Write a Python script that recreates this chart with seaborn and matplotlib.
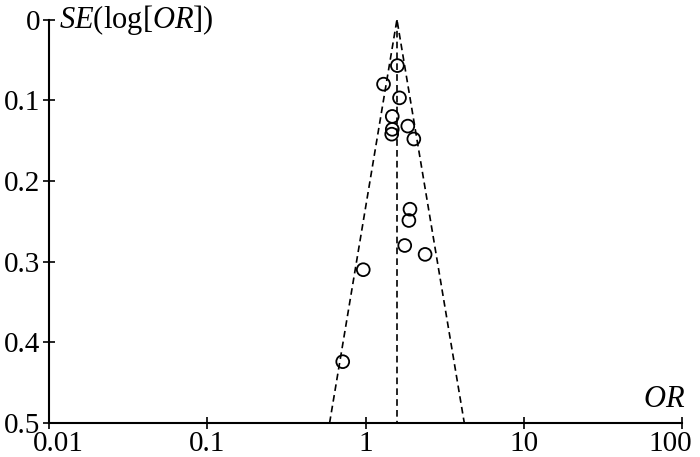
import matplotlib
matplotlib.use("Agg")
import matplotlib.pyplot as plt
import matplotlib.transforms as mtransforms
import numpy as np
import pandas as pd
import seaborn as sns

# study estimates
odds_ratio = [1.59, 1.30, 1.64, 1.476, 1.85, 1.476, 1.464, 2.02,
              1.91, 1.88, 1.77, 2.38, 0.968, 0.718]
se_log_or = [0.057, 0.080, 0.097, 0.120, 0.132, 0.136, 0.142, 0.148,
             0.235, 0.249, 0.280, 0.291, 0.310, 0.424]

pooled_or = 1.58
se_max = 0.5
x_ticks = [0.01, 0.1, 1, 10, 100]
x_tick_labels = ["0.01", "0.1", "1", "10", "100"]
y_ticks = [0, 0.1, 0.2, 0.3, 0.4, 0.5]
y_tick_labels = ["0", "0.1", "0.2", "0.3", "0.4", "0.5"]

sns.set_theme(style="ticks")
plt.rcParams["font.family"] = ["Liberation Serif", "DejaVu Serif"]
plt.rcParams["mathtext.fontset"] = "custom"
plt.rcParams["mathtext.rm"] = "Liberation Serif"
plt.rcParams["mathtext.it"] = "Liberation Serif:italic"
plt.rcParams["text.color"] = "black"

df = pd.DataFrame({"OR": odds_ratio, "SE": se_log_or})

# funnel limits: pooled estimate +/- 1.96 SE on the log scale
funnel = pd.DataFrame({
    "SE": [se_max, 0, se_max],
    "OR": [np.exp(np.log(pooled_or) - 1.96 * se_max), pooled_or,
           np.exp(np.log(pooled_or) + 1.96 * se_max)],
})
center = pd.DataFrame({"SE": [0, se_max], "OR": [pooled_or, pooled_or]})

fig = plt.figure(figsize=(7, 4.57), dpi=100)
ax = fig.add_axes([0.07, 0.0744, 0.9043, 0.8827])

dash = (0, (4, 2.5))
sns.lineplot(data=funnel, x="OR", y="SE", sort=False, estimator=None,
             color="black", linestyle=dash, linewidth=1.2, ax=ax)
sns.lineplot(data=center, x="OR", y="SE", sort=False, estimator=None,
             color="black", linestyle=dash, linewidth=1.2, ax=ax)
sns.scatterplot(data=df, x="OR", y="SE", marker="o", s=85,
                facecolor="none", edgecolor="black", linewidth=1.3, ax=ax,
                zorder=3)

ax.set_xscale("log")
ax.set_xlim(0.01, 100)
ax.set_ylim(se_max, 0)
ax.set_xticks(x_ticks)
ax.set_xticklabels(x_tick_labels)
ax.set_yticks(y_ticks)
ax.set_yticklabels(y_tick_labels)
ax.minorticks_off()
ax.set_xlabel("")
ax.set_ylabel("")

for side in ["top", "right"]:
    ax.spines[side].set_visible(False)
for side in ["left", "bottom"]:
    ax.spines[side].set_linewidth(1.5)
    ax.spines[side].set_color("black")
ax.tick_params(direction="inout", length=9, width=1.2, labelsize=21,
               colors="black")
ax.tick_params(axis="x", pad=1)
ax.tick_params(axis="y", pad=2)

# end labels sit inside the axis span in the original
xlabels = ax.get_xticklabels()
xlabels[0].set_transform(xlabels[0].get_transform() +
                         mtransforms.ScaledTranslation(0.09, 0, fig.dpi_scale_trans))
xlabels[-1].set_transform(xlabels[-1].get_transform() +
                          mtransforms.ScaledTranslation(-0.12, 0, fig.dpi_scale_trans))

ax.text(0.0116, 0.0, r"$SE$(log[$OR$])", fontsize=22, va="center",
        ha="left", color="black", transform=ax.transData)
ax.text(1.005, 0.022, r"$OR$", fontsize=22, ha="right", va="bottom",
        color="black", transform=ax.transAxes)

fig.savefig("out.png", dpi=100)
